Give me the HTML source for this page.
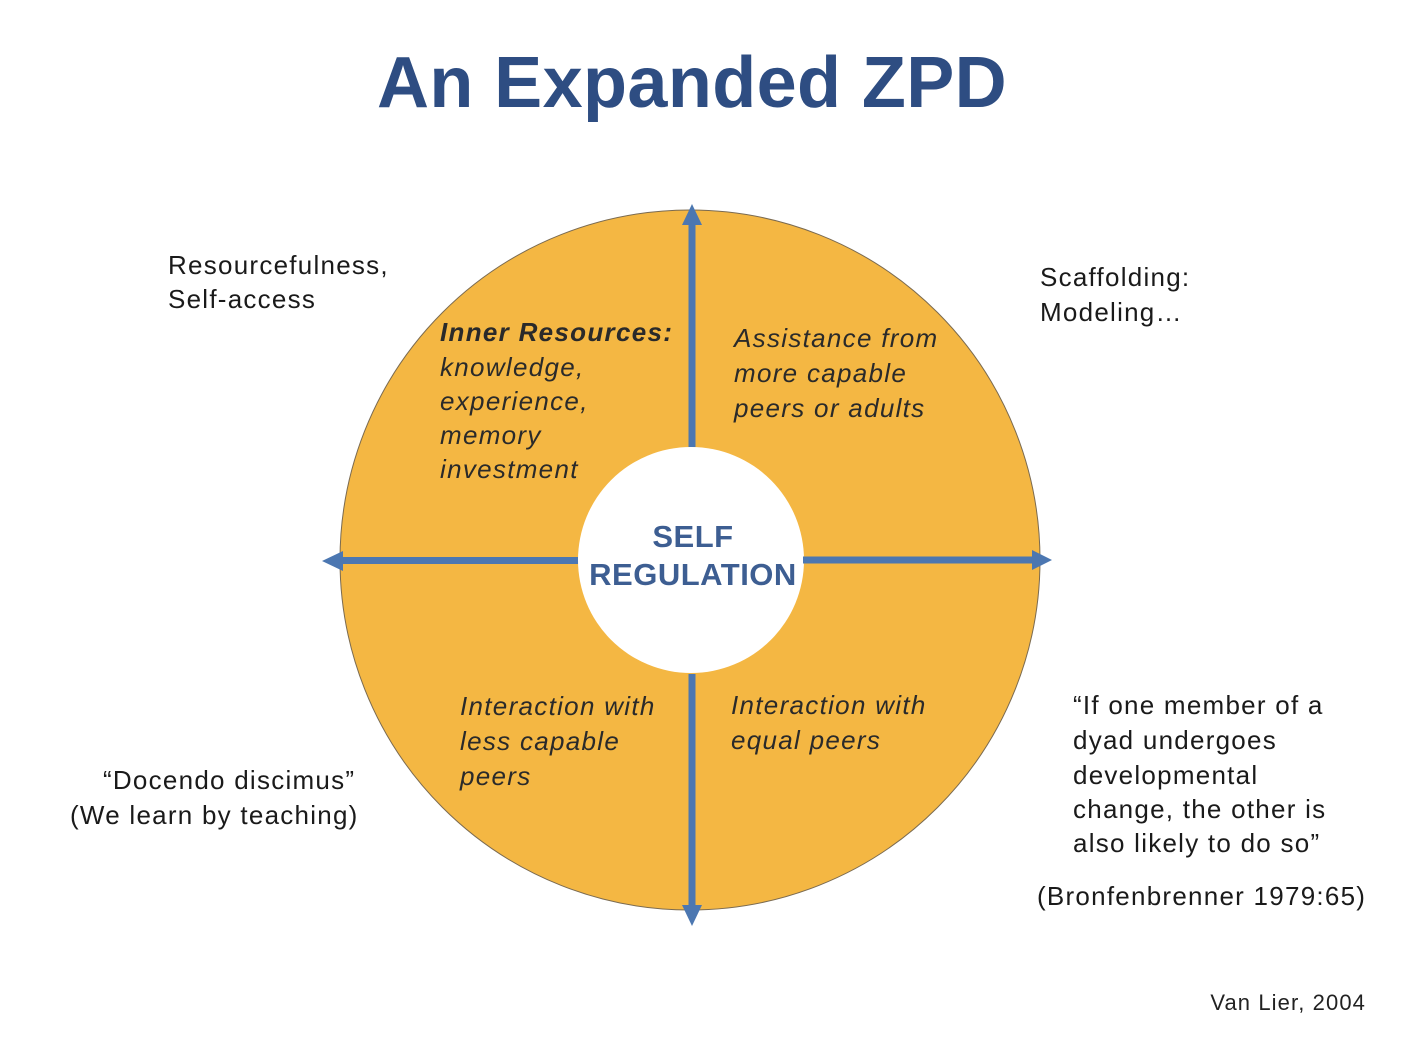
<!DOCTYPE html>
<html><head><meta charset="utf-8"><style>
body{margin:0;background:#fff}
svg{display:block}
text{font-family:"Liberation Sans",Arial,sans-serif}
.t{font-size:26px;fill:#1a1a1a;letter-spacing:1.25px}
.i{font-size:26px;fill:#2a2a2a;font-style:italic;letter-spacing:1.3px}
</style></head><body>
<svg width="1422" height="1043" viewBox="0 0 1422 1043">
<text x="692" y="107" text-anchor="middle" font-size="72" font-weight="bold" fill="#2E4D82" letter-spacing="0.4">An Expanded ZPD</text>
<circle cx="690" cy="560" r="350" fill="#F4B743" stroke="#7a6a50" stroke-width="1"/>
<circle cx="691" cy="560" r="113" fill="#fff"/>
<g fill="#4C77B1">
<rect x="688.5" y="222" width="7" height="225"/>
<polygon points="692,204 682,225 702,225"/>
<rect x="688.5" y="674" width="7" height="235"/>
<polygon points="692,926 682,905 702,905"/>
<rect x="340" y="557" width="238" height="7"/>
<polygon points="322,561 343,551 343,571"/>
<rect x="803" y="556.5" width="232" height="7"/>
<polygon points="1052,560 1032,550 1032,570"/>
</g>
<text x="693" y="547" text-anchor="middle" font-size="31" font-weight="bold" fill="#3D5E92" letter-spacing="0.5">SELF</text>
<text x="693" y="585" text-anchor="middle" font-size="31" font-weight="bold" fill="#3D5E92" letter-spacing="0.5">REGULATION</text>
<text class="i" x="440" y="341" font-weight="bold" letter-spacing="0.6">Inner Resources:</text>
<text class="i" x="440" y="376">knowledge,</text>
<text class="i" x="440" y="410">experience,</text>
<text class="i" x="440" y="444">memory</text>
<text class="i" x="440" y="478">investment</text>
<text class="i" x="734" y="347">Assistance from</text>
<text class="i" x="734" y="382">more capable</text>
<text class="i" x="734" y="417">peers or adults</text>
<text class="i" x="460" y="715">Interaction with</text>
<text class="i" x="460" y="750">less capable</text>
<text class="i" x="460" y="785">peers</text>
<text class="i" x="731" y="714">Interaction with</text>
<text class="i" x="731" y="749">equal peers</text>
<text class="t" x="168" y="274">Resourcefulness,</text>
<text class="t" x="168" y="308">Self-access</text>
<text class="t" x="1040" y="286">Scaffolding:</text>
<text class="t" x="1040" y="321">Modeling…</text>
<text class="t" x="103" y="789">“Docendo discimus”</text>
<text class="t" x="70" y="824">(We learn by teaching)</text>
<text class="t" x="1073" y="714">“If one member of a</text>
<text class="t" x="1073" y="749">dyad undergoes</text>
<text class="t" x="1073" y="784">developmental</text>
<text class="t" x="1073" y="818">change, the other is</text>
<text class="t" x="1073" y="852">also likely to do so”</text>
<text class="t" x="1037" y="905">(Bronfenbrenner 1979:65)</text>
<text x="1366" y="1010" text-anchor="end" font-size="22" fill="#222" letter-spacing="1.1">Van Lier, 2004</text>
</svg>
</body></html>
